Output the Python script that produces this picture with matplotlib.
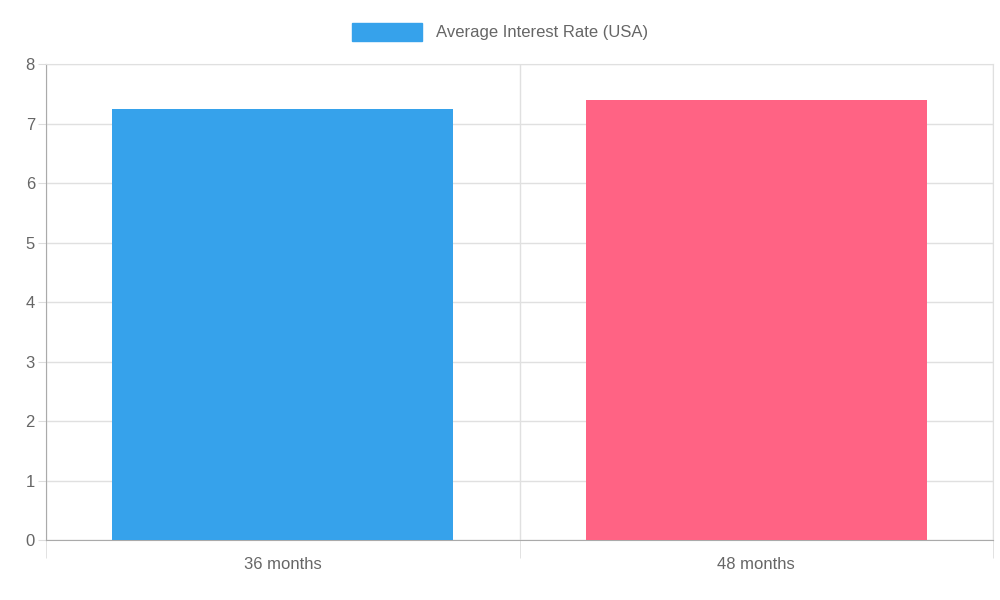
import matplotlib
matplotlib.use("Agg")
import matplotlib.pyplot as plt
from matplotlib.patches import Patch

categories = ["36 months", "48 months"]
values = [7.24, 7.39]
colors = ["#36A2EB", "#FF6384"]
series_label = "Average Interest Rate (USA)"

plt.rcParams['font.family'] = ['Liberation Sans', 'DejaVu Sans']
fig = plt.figure(figsize=(10, 6), dpi=100)
ax = fig.add_axes([0.046, 0.1, 0.947, 0.7933])
x = list(range(len(categories)))
ax.bar(x, values, width=0.72, color=colors, zorder=3)
ax.set_xlim(-0.5, len(categories) - 0.5)
ax.set_ylim(0, 8)
ax.set_yticks(range(0, 9))
ax.set_xticks(x)
ax.set_xticklabels(categories)
ax.set_xticks([i - 0.5 for i in range(len(categories) + 1)], minor=True)
ax.tick_params(axis='x', which='major', length=0, labelsize=12, labelcolor='#666666', pad=12)
ax.tick_params(axis='x', which='minor', length=13, color='#dddddd')
ax.tick_params(axis='y', length=6, color='#dddddd', labelsize=12, labelcolor='#666666', pad=2)
ax.grid(True, axis='y', color='#e0e0e0', linewidth=1, zorder=0)
ax.grid(True, axis='x', which='minor', color='#e0e0e0', linewidth=1, zorder=0)
for s in ['top', 'right']:
    ax.spines[s].set_color('#e0e0e0')
for s in ['left', 'bottom']:
    ax.spines[s].set_color('#aaaaaa')
fig.legend(handles=[Patch(color=colors[0], label=series_label)], loc='center',
           bbox_to_anchor=(0.5, 0.947), frameon=False, fontsize=12, handlelength=4.2,
           handleheight=1.3, labelcolor='#666666')
fig.savefig("out.png", dpi=100)
